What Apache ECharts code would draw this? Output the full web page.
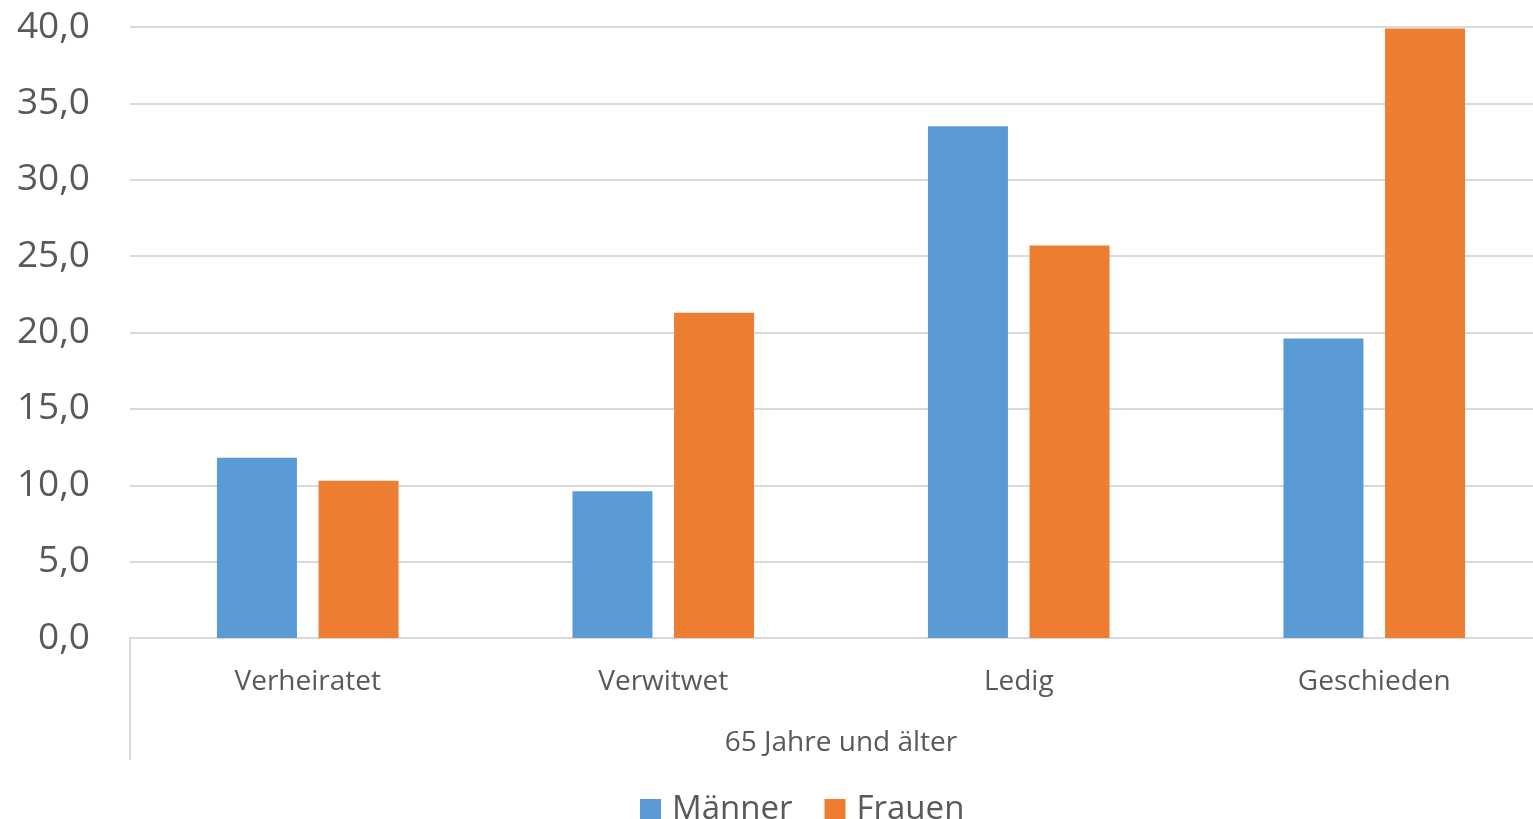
<!DOCTYPE html>
<html>
<head>
<meta charset="utf-8">
<script src="https://cdn.jsdelivr.net/npm/echarts@6/dist/echarts.min.js"></script>
<style>
  html, body { margin: 0; padding: 0; background: #fff; }
  #main { width: 1533px; height: 819px; }
</style>
</head>
<body>
<div id="main"></div>
<script>
// Kategorien und Werte (in %)
var categories = ["Verheiratet", "Verwitwet", "Ledig", "Geschieden"];
var groupLabel = ["65 Jahre und älter"];
var maenner = [11.8, 9.6, 33.5, 19.6];
var frauen = [10.3, 21.3, 25.7, 39.9];

var textColor = "#595959";
var lineColor = "#D9D9D9";
var font = "Open Sans";

var myChart = echarts.init(document.getElementById("main"));

var option = {
  animation: false,
  // Plotbereich reicht rechts etwas über den Rand hinaus
  grid: {
    left: 130,
    width: 1422,
    top: 27,
    height: 611,
    containLabel: false,
    outerBoundsMode: "none",
  },
  legend: {
    top: 788,
    left: 635,
    icon: "rect",
    itemWidth: 21,
    itemHeight: 21,
    itemGap: 32,
    textStyle: { color: textColor, fontSize: 33, fontFamily: font, padding: [0, 0, 0, 6] },
    data: ["Männer", "Frauen"],
  },
  xAxis: [
    {
      type: "category",
      data: categories,
      axisLine: { show: true, lineStyle: { color: lineColor, width: 2 } },
      axisTick: { show: false },
      axisLabel: {
        color: textColor,
        fontSize: 28,
        fontFamily: font,
        margin: 30,
        lineHeight: 28,
      },
    },
    {
      type: "category",
      position: "bottom",
      data: groupLabel,
      axisLine: { show: false },
      axisTick: { show: true, length: 122, lineStyle: { color: lineColor, width: 2 } },
      axisLabel: {
        color: textColor,
        fontSize: 28,
        fontFamily: font,
        margin: 91,
        lineHeight: 28,
      },
    },
  ],
  yAxis: {
    type: "value",
    min: 0,
    max: 40,
    interval: 5,
    axisLine: { show: false },
    axisTick: { show: false },
    splitLine: { lineStyle: { color: lineColor, width: 2 } },
    axisLabel: {
      color: textColor,
      fontSize: 37,
      fontFamily: font,
      margin: 40,
      formatter: function (v) {
        return v.toFixed(1).replace(".", ",");
      },
    },
  },
  series: [
    {
      name: "Männer",
      type: "bar",
      data: maenner,
      barWidth: 80,
      barGap: "27%",
      itemStyle: { color: "#5B9BD5" },
    },
    {
      name: "Frauen",
      type: "bar",
      data: frauen,
      barWidth: 80,
      itemStyle: { color: "#ED7D31" },
    },
  ],
};

myChart.setOption(option);
</script>
</body>
</html>
